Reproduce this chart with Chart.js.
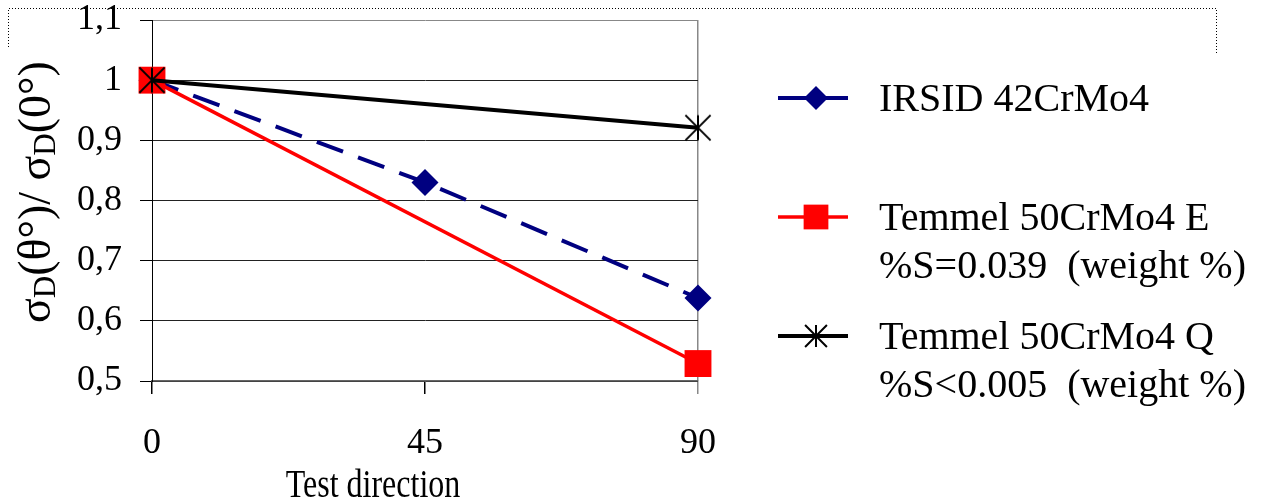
<!DOCTYPE html>
<html>
<head>
<meta charset="utf-8">
<script src="https://cdn.jsdelivr.net/npm/chart.js@4.4.1/dist/chart.umd.min.js"></script>
<style>
  html, body { margin: 0; padding: 0; background: #fff; }
  canvas { display: block; }
</style>
</head>
<body>
<canvas id="chart" width="1275" height="503"></canvas>
<script>
// --- values ---
const irsidAngles = [0, 45, 90];
const irsidValues = [1, 0.83, 0.638];
const temmelEAngles = [0, 90];
const temmelEValues = [1, 0.529];
const temmelQAngles = [0, 90];
const temmelQValues = [1, 0.921];

const seriesLabels = [
    ['IRSID 42CrMo4'],
    ['Temmel 50CrMo4 E', '%S=0.039  (weight %)'],
    ['Temmel 50CrMo4 Q', '%S<0.005  (weight %)']
];
const xTicks = [0, 45, 90];
const yTicks = [0.5, 0.6, 0.7, 0.8, 0.9, 1, 1.1];
const xTitle = 'Test direction';
// [text, isSubscript]
const yTitleParts = [['σ', 0], ['D', 1], ['(θ°)/ ', 0], ['σ', 0], ['D', 1], ['(0°)', 0]];

const FONT = '"Liberation Serif", "Times New Roman", serif';

// excel-like star marker: an X plus a vertical stroke
function makeStar(size, lw) {
    const c = document.createElement('canvas');
    c.width = c.height = size;
    const g = c.getContext('2d');
    const m = size / 2, d = size * 0.42;
    g.strokeStyle = '#000';
    g.lineWidth = lw;
    g.beginPath();
    g.moveTo(m - d, m - d); g.lineTo(m + d, m + d);
    g.moveTo(m + d, m - d); g.lineTo(m - d, m + d);
    g.moveTo(m, m - d); g.lineTo(m, m + d);
    g.stroke();
    return c;
}

function toPoints(xs, ys) {
    return xs.map((x, i) => ({ x, y: ys[i] }));
}

const legendMarkers = [
    { style: 'rectRot', radius: 12 },
    { style: 'rect', radius: 17.5 },
    { style: makeStar(26, 2), radius: 12 }
];

// draws titles, legend and the dotted outer frame
const decorations = {
    id: 'decorations',
    afterDraw(chart) {
        const ctx = chart.ctx;
        ctx.save();

        // dotted frame (only the visible part)
        ctx.strokeStyle = '#000';
        ctx.lineWidth = 1;
        ctx.setLineDash([1, 2]);
        ctx.beginPath();
        ctx.moveTo(8.5, 47); ctx.lineTo(8.5, 8.5); ctx.lineTo(1216.5, 8.5); ctx.lineTo(1216.5, 53);
        ctx.stroke();
        ctx.setLineDash([]);

        ctx.fillStyle = '#000';
        ctx.textBaseline = 'alphabetic';

        // y title, rotated, with subscripts
        ctx.save();
        ctx.translate(50, 323);
        ctx.rotate(-Math.PI / 2);
        let px = 0;
        for (const [t, sub] of yTitleParts) {
            ctx.font = (sub ? '31px ' : '46px ') + FONT;
            ctx.fillText(t, px, sub ? 5 : 0);
            px += ctx.measureText(t).width;
        }
        ctx.restore();

        // x title (narrow, like the original)
        ctx.save();
        ctx.translate(373, 497);
        ctx.scale(0.78, 1);
        ctx.textAlign = 'center';
        ctx.font = '41px ' + FONT;
        ctx.fillText(xTitle, 0, 0);
        ctx.restore();

        // legend
        chart.data.datasets.forEach((ds, i) => {
            const ly = 98 + i * 119;
            ctx.strokeStyle = ds.borderColor;
            ctx.lineWidth = ds.borderWidth;
            ctx.beginPath();
            ctx.moveTo(778, ly); ctx.lineTo(848, ly);
            ctx.stroke();
            ctx.fillStyle = ds.pointBackgroundColor;
            Chart.helpers.drawPoint(ctx, {
                pointStyle: legendMarkers[i].style,
                radius: legendMarkers[i].radius,
                rotation: 0,
                borderWidth: 0
            }, 816, ly);
            ctx.fillStyle = '#000';
            ctx.font = '40px ' + FONT;
            seriesLabels[i].forEach((line, k) => ctx.fillText(line, 879, ly + 13 + k * 48));
        });

        ctx.restore();
    }
};

new Chart(document.getElementById('chart'), {
    type: 'line',
    data: {
        datasets: [
            {
                label: seriesLabels[0].join(' '),
                data: toPoints(irsidAngles, irsidValues),
                borderColor: '#000080',
                borderWidth: 4,
                borderDash: [28, 16],
                pointStyle: 'rectRot',
                pointRadius: 13.5,
                pointBorderWidth: 0,
                pointBackgroundColor: '#000080',
                clip: false,
                order: 2
            },
            {
                label: seriesLabels[1].join(' '),
                data: toPoints(temmelEAngles, temmelEValues),
                borderColor: '#ff0000',
                borderWidth: 3.5,
                pointStyle: 'rect',
                pointRadius: 19,
                pointBorderWidth: 0,
                pointBackgroundColor: '#ff0000',
                clip: false,
                order: 1
            },
            {
                label: seriesLabels[2].join(' '),
                data: toPoints(temmelQAngles, temmelQValues),
                borderColor: '#000000',
                borderWidth: 4,
                pointStyle: makeStar(30, 2),
                pointRadius: 15,
                pointBorderWidth: 0,
                pointBackgroundColor: '#000000',
                clip: false,
                order: 0
            }
        ]
    },
    options: {
        responsive: false,
        animation: false,
        devicePixelRatio: 1,
        events: [],
        layout: { padding: { left: 0, top: 20, right: 577, bottom: 0 } },
        plugins: { legend: { display: false }, tooltip: { enabled: false } },
        scales: {
            x: {
                type: 'linear',
                min: xTicks[0],
                max: xTicks[xTicks.length - 1],
                afterBuildTicks: s => { s.ticks = xTicks.map(v => ({ value: v })); },
                afterFit: s => { s.height = 122; s.paddingLeft = 0; s.paddingRight = 0; },
                grid: {
                    drawOnChartArea: true,
                    color: c => (c.tick && c.tick.value === 90) ? '#888888' : 'rgba(0,0,0,0)',
                    tickColor: c => (c.tick && c.tick.value === 90) ? '#888888' : '#000000',
                    tickLength: 13,
                    lineWidth: 1.5
                },
                border: { color: '#666666', width: 1.5 },
                ticks: { color: '#000', font: { family: FONT, size: 36 }, padding: 28, maxRotation: 0 }
            },
            y: {
                min: yTicks[0],
                max: yTicks[yTicks.length - 1],
                afterBuildTicks: s => { s.ticks = yTicks.map(v => ({ value: v })); },
                afterFit: s => { s.width = 152; s.paddingTop = 0; s.paddingBottom = 0; },
                grid: {
                    color: c => (c.tick && Math.abs(c.tick.value - 1.1) < 1e-9) ? '#888888' : '#222222',
                    tickColor: '#000000',
                    tickLength: 12,
                    lineWidth: 1
                },
                border: { color: '#000000', width: 1 },
                ticks: {
                    color: '#000',
                    font: { family: FONT, size: 36 },
                    padding: 18,
                    callback: v => Math.abs(v - 1) < 1e-9 ? '1' : v.toFixed(1).replace('.', ',')
                }
            }
        }
    },
    plugins: [decorations]
});
</script>
</body>
</html>
